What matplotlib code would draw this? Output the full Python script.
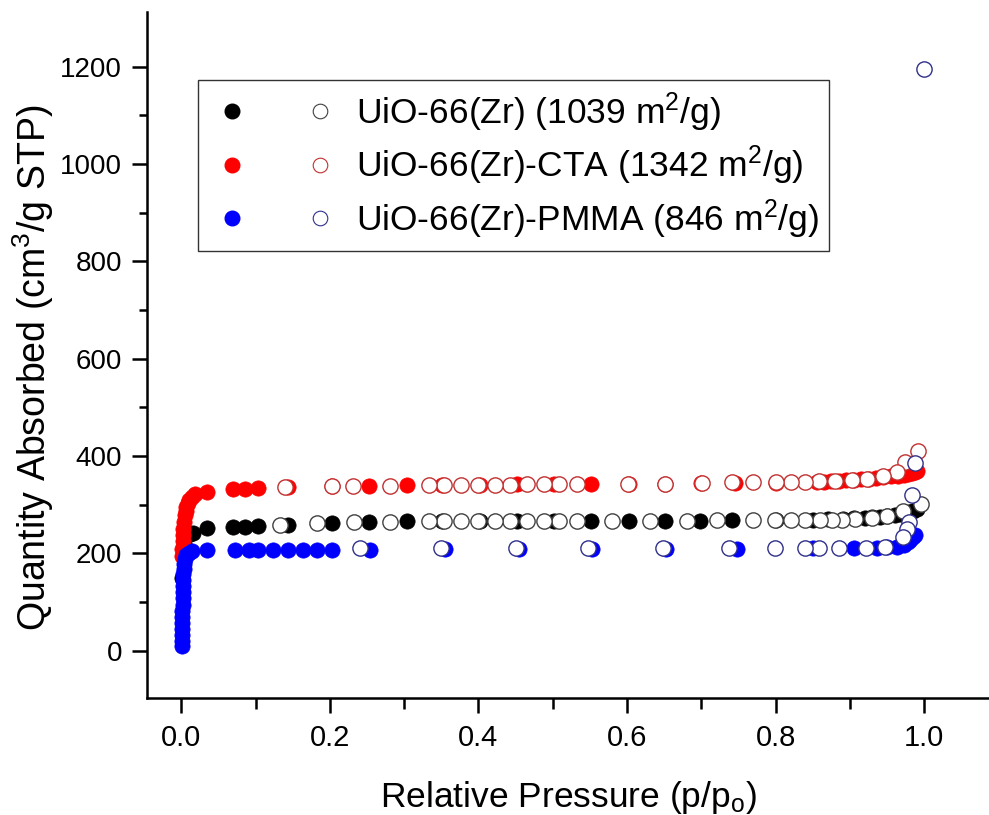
"""
N2 isotherms of UiO-66(Zr) samples: adsorption (filled) / desorption (open)
"""

import matplotlib
matplotlib.use("Agg")
import matplotlib.pyplot as plt
from matplotlib.lines import Line2D
from matplotlib.legend_handler import HandlerTuple

plt.rcParams["font.family"] = ["Liberation Sans", "DejaVu Sans"]
plt.rcParams["mathtext.fontset"] = "custom"
plt.rcParams["mathtext.rm"] = "Liberation Sans"
plt.rcParams["mathtext.it"] = "Liberation Sans:italic"

# UiO-66(Zr)
zr_ads_p = [0.001, 0.002, 0.004, 0.007, 0.012, 0.016, 0.035, 0.070, 0.086, 0.104, 0.144,
            0.203, 0.253, 0.304, 0.351, 0.402, 0.452, 0.501, 0.551, 0.602, 0.651, 0.698,
            0.741, 0.800, 0.850, 0.870, 0.890, 0.905, 0.920, 0.930, 0.940, 0.950, 0.960,
            0.967, 0.974, 0.980, 0.985, 0.990]
zr_ads_q = [150, 195, 220, 235, 240, 242, 253, 255, 255, 257, 259,
            263, 265, 266, 266, 266, 266, 266, 266, 266, 266, 267,
            268, 268, 269, 270, 271, 272, 273, 274, 275, 276, 278,
            280, 282, 285, 288, 292]
zr_des_p = [0.995, 0.971, 0.950, 0.930, 0.907, 0.889, 0.876, 0.860, 0.840, 0.820, 0.799,
            0.770, 0.721, 0.681, 0.631, 0.580, 0.532, 0.509, 0.488, 0.465, 0.443, 0.422,
            0.399, 0.377, 0.353, 0.333, 0.281, 0.232, 0.183, 0.133]
zr_des_q = [302, 287, 276, 273, 271, 269, 269, 269, 269, 268, 268,
            268, 268, 267, 267, 267, 266, 266, 266, 266, 266, 266,
            266, 266, 266, 266, 264, 264, 263, 259]

# UiO-66(Zr)-CTA
cta_ads_p = [0.001, 0.0015, 0.002, 0.0025, 0.003, 0.004, 0.005, 0.006, 0.007, 0.009, 0.011,
             0.014, 0.018, 0.035, 0.070, 0.086, 0.104, 0.144, 0.203, 0.253, 0.304, 0.351,
             0.402, 0.452, 0.501, 0.551, 0.602, 0.651, 0.700, 0.745, 0.800, 0.855, 0.865,
             0.875, 0.885, 0.895, 0.905, 0.915, 0.925, 0.935, 0.945, 0.955, 0.965, 0.972,
             0.978, 0.983, 0.987, 0.990]
cta_ads_q = [195, 210, 225, 238, 250, 265, 278, 288, 296, 303, 310,
             316, 321, 327, 333, 333, 335, 337, 339, 339, 341, 341,
             341, 342, 342, 342, 343, 343, 344, 344, 345, 346, 347,
             348, 349, 350, 351, 352, 353, 354, 356, 358, 360, 362,
             364, 366, 368, 370]
cta_des_p = [0.992, 0.974, 0.963, 0.944, 0.923, 0.902, 0.880, 0.858, 0.840, 0.820, 0.801,
             0.769, 0.741, 0.701, 0.651, 0.601, 0.532, 0.509, 0.488, 0.465, 0.443, 0.422,
             0.399, 0.377, 0.353, 0.333, 0.281, 0.231, 0.203, 0.140]
cta_des_q = [410, 387, 368, 358, 353, 351, 349, 348, 346, 346, 346,
             346, 346, 345, 343, 343, 342, 342, 342, 342, 341, 341,
             341, 341, 341, 341, 339, 339, 338, 336]

# UiO-66(Zr)-PMMA
pmma_ads_p = [0.0005, 0.0007, 0.0009, 0.001, 0.0012, 0.0014, 0.0016, 0.0018, 0.002, 0.0022,
              0.0025, 0.0028, 0.003, 0.0035, 0.004, 0.005, 0.007, 0.010, 0.015, 0.035,
              0.073, 0.091, 0.103, 0.124, 0.144, 0.164, 0.183, 0.203, 0.254, 0.355, 0.454,
              0.553, 0.653, 0.748, 0.850, 0.905, 0.936, 0.950, 0.963, 0.972, 0.978, 0.981,
              0.985, 0.988]
pmma_ads_q = [10, 20, 32, 45, 58, 70, 82, 95, 108, 120,
              133, 145, 157, 168, 178, 188, 196, 200, 204, 207,
              207, 207, 207, 207, 207, 207, 207, 207, 208, 209, 209,
              209, 210, 210, 211, 211, 212, 213, 214, 218, 223, 228,
              233, 238]
pmma_des_p = [1.000, 0.988, 0.983, 0.979, 0.977, 0.971, 0.947, 0.921, 0.885, 0.858, 0.840,
              0.799, 0.737, 0.649, 0.548, 0.450, 0.349, 0.241]
pmma_des_q = [1195, 386, 320, 264, 250, 234, 213, 211, 211, 211, 211,
              211, 211, 211, 211, 211, 211, 211]

series = [
    ("UiO-66(Zr) (1039 m$^2$/g)", zr_ads_p, zr_ads_q, zr_des_p, zr_des_q, "black", "#404040"),
    ("UiO-66(Zr)-CTA (1342 m$^2$/g)", cta_ads_p, cta_ads_q, cta_des_p, cta_des_q, "#ff0000", "#c03030"),
    ("UiO-66(Zr)-PMMA (846 m$^2$/g)", pmma_ads_p, pmma_ads_q, pmma_des_p, pmma_des_q, "#0000ff", "#30308a"),
]

fig = plt.figure(figsize=(9.89, 8.15), dpi=100)
ax = fig.add_axes([147 / 989, 1 - 698 / 815, 842 / 989, 686 / 815])

handles, labels = [], []
for label, ap, aq, dp, dq, c, ec in series:
    ax.plot(ap, aq, "o", ms=11, color=c, mec=c, mew=0.5, clip_on=False)
    ax.plot(dp, dq, "o", ms=11, mfc="white", mec=ec, mew=1.0, clip_on=False)
    h1 = Line2D([], [], ls="none", marker="o", ms=10.5, color=c, mec=c)
    h2 = Line2D([], [], ls="none", marker="o", ms=10.5, mfc="white", mec=ec, mew=0.8)
    handles.append((h1, h2))
    labels.append(label)

ax.set_xlim(-0.046, 1.087)
ax.set_ylim(-97, 1312)
ax.set_xticks([0.0, 0.2, 0.4, 0.6, 0.8, 1.0])
ax.set_xticks([0.1, 0.3, 0.5, 0.7, 0.9], minor=True)
ax.set_yticks([0, 200, 400, 600, 800, 1000, 1200])
ax.set_yticks([100, 300, 500, 700, 900, 1100], minor=True)

for s in ["top", "right"]:
    ax.spines[s].set_visible(False)
for s in ["left", "bottom"]:
    ax.spines[s].set_linewidth(1.8)

ax.tick_params(axis="both", which="major", direction="out", length=11, width=1.8)
ax.tick_params(axis="y", which="minor", direction="out", length=5.5, width=1.8)
ax.tick_params(axis="x", which="minor", direction="out", length=8, width=1.8)
ax.tick_params(axis="y", which="major", labelsize=20, pad=7)
ax.tick_params(axis="x", which="major", labelsize=21, pad=8)

ax.set_xlabel("Relative Pressure (p/p$_\\mathrm{o}$)", fontsize=25.5, labelpad=19)
ax.set_ylabel("Quantity Absorbed (cm$^3$/g STP)", fontsize=27)
ax.yaxis.set_label_coords(-0.108, 0.481)

leg = ax.legend(handles, labels, handler_map={tuple: HandlerTuple(ndivide=None, pad=1.18)},
                loc="upper left", bbox_to_anchor=(0.0606, 0.901), borderaxespad=0,
                fontsize=25.5, frameon=True, fancybox=False, edgecolor="black",
                handlelength=3.8, handletextpad=0.35, labelspacing=0.28, borderpad=0.3)
leg.get_frame().set_linewidth(1.0)

fig.savefig("out.png", dpi=100)
plt.close()
